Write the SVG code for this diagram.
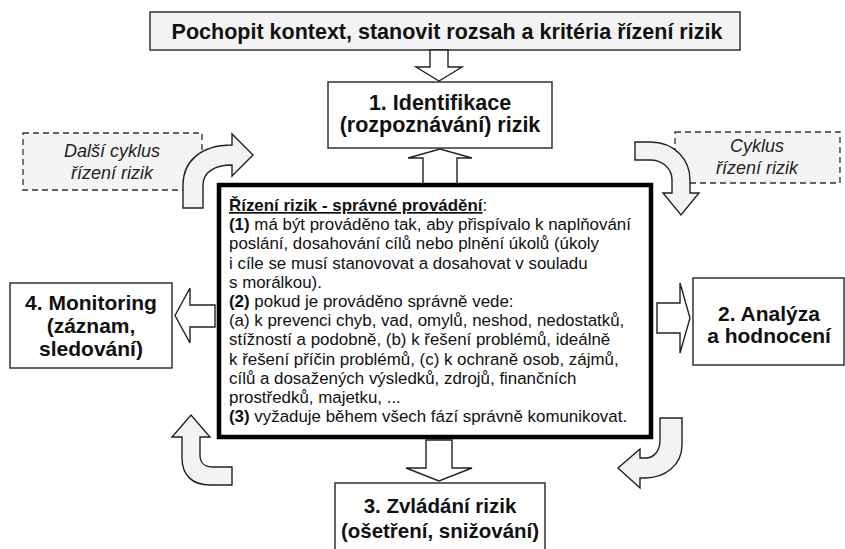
<svg xmlns="http://www.w3.org/2000/svg" width="845" height="549" viewBox="0 0 845 549">
  <style>
    .box { fill: #ffffff; stroke: #333333; stroke-width: 1.5; }
    .topbox { fill: #f3f3f3; stroke: #333333; stroke-width: 1.5; }
    .note { fill: #f4f4f4; stroke: #333333; stroke-width: 1.3; stroke-dasharray: 6 4; }
    .core { fill: #ffffff; stroke: #000000; stroke-width: 4.5; }
    .arrow { fill: #ffffff; stroke: #222222; stroke-width: 1.4; stroke-linejoin: miter; }
    .bend { fill: #f3f3f3; stroke: #222222; stroke-width: 1.4; }
    .head { font-family: "Liberation Sans", Arial, sans-serif; font-weight: bold; fill: #111111; text-anchor: middle; }
    .it { font-family: "Liberation Sans", Arial, sans-serif; font-style: italic; font-size: 18px; fill: #222222; text-anchor: middle; }
    .body { font-family: "Liberation Sans", Arial, sans-serif; font-size: 16.9px; fill: #111111; }
    .b { font-weight: bold; }
  </style>

  <!-- context banner -->
  <g id="context">
    <rect class="topbox" x="150" y="12" width="590" height="38"/>
    <text class="head" x="447" y="38.5" font-size="21.5">Pochopit kontext, stanovit rozsah a kritéria řízení rizik</text>
  </g>

  <!-- step 1 -->
  <g id="identifikace">
    <rect class="box" x="328" y="82" width="224" height="66"/>
    <text class="head" x="440" y="110" font-size="21.5">1. Identifikace</text>
    <text class="head" x="440" y="132" font-size="21.5">(rozpoznávání) rizik</text>
  </g>

  <!-- step 2 -->
  <g id="analyza">
    <rect class="box" x="693" y="278" width="151" height="87"/>
    <text class="head" x="769" y="321" font-size="21">2. Analýza</text>
    <text class="head" x="769" y="343" font-size="21">a hodnocení</text>
  </g>

  <!-- step 3 -->
  <g id="zvladani">
    <rect class="box" x="335" y="483" width="210" height="80"/>
    <text class="head" x="440" y="513" font-size="20.5">3. Zvládání rizik</text>
    <text class="head" x="440" y="538" font-size="20.5">(ošetření, snižování)</text>
  </g>

  <!-- step 4 -->
  <g id="monitoring">
    <rect class="box" x="10" y="283" width="162" height="85"/>
    <text class="head" x="91" y="310" font-size="21">4. Monitoring</text>
    <text class="head" x="91" y="333" font-size="21">(záznam,</text>
    <text class="head" x="91" y="356" font-size="21">sledování)</text>
  </g>

  <!-- cycle notes -->
  <g id="dalsi-cyklus">
    <rect class="note" x="23" y="133" width="179" height="57"/>
    <text class="it" x="112" y="157">Další cyklus</text>
    <text class="it" x="112" y="179">řízení rizik</text>
  </g>
  <g id="cyklus">
    <rect class="note" x="675" y="132" width="165" height="51"/>
    <text class="it" x="757" y="152">Cyklus</text>
    <text class="it" x="757" y="174">řízení rizik</text>
  </g>

  <!-- connectors -->
  <g id="connectors">
    <!-- banner to step 1 -->
    <path class="arrow" d="M430 50 L448 50 L448 67 L462 67 L439 81 L416 67 L430 67 Z"/>
    <!-- core to step 1 -->
    <path class="arrow" d="M423 184 L423 158 L408 158 L440 149 L472 158 L457 158 L457 184 Z"/>
    <!-- core to step 2 -->
    <path class="arrow" d="M657 303 L680 303 L680 283 L690 318 L680 353 L680 333 L657 333 Z"/>
    <!-- core to step 3 -->
    <path class="arrow" d="M426 440 L452 440 L452 468 L472 468 L439 481 L406 468 L426 468 Z"/>
    <!-- core to step 4 -->
    <path class="arrow" d="M215 305 L190 305 L190 288 L175 315.5 L190 343 L190 327 L215 327 Z"/>
    <!-- cycle bends -->
    <path class="bend" d="M183 208 L183 185 C183 162 200 145 232 145 L232 134 L253 155 L232 176 L232 165 C215 165 203 172 203 185 L203 208 Z"/>
    <path class="bend" d="M635 142 L650 142 C675 142 690 160 690 180 L690 193 L699 193 L681 215 L663 193 L672 193 L672 180 C672 168 662 160 650 160 L635 160 Z"/>
    <path class="bend" d="M660 418 L682 418 L682 445 C682 465 665 478 645 478 L640 478 L640 488 L618 468 L640 449 L640 458 L645 458 C655 458 660 450 660 440 Z"/>
    <path class="bend" d="M232 467 L232 485 L210 485 C192 485 182 475 182 458 L182 437 L172 437 L191 415 L210 437 L200 437 L200 455 C200 462 204 467 212 467 Z"/>
  </g>

  <!-- central principles panel -->
  <g id="spravne-provadeni">
    <rect class="core" x="219" y="185" width="432" height="252"/>
    <text class="body" x="229">
      <tspan x="229" y="211"><tspan class="b" text-decoration="underline">Řízení rizik - správné provádění</tspan>:</tspan>
      <tspan x="229" y="230.2"><tspan class="b">(1)</tspan> má být prováděno tak, aby přispívalo k naplňování</tspan>
      <tspan x="229" y="249.4">poslání, dosahování cílů nebo plnění úkolů (úkoly</tspan>
      <tspan x="229" y="268.6">i cíle se musí stanovovat a dosahovat v souladu</tspan>
      <tspan x="229" y="287.8">s morálkou).</tspan>
      <tspan x="229" y="307"><tspan class="b">(2)</tspan> pokud je prováděno správně vede:</tspan>
      <tspan x="229" y="326.2">(a) k prevenci chyb, vad, omylů, neshod, nedostatků,</tspan>
      <tspan x="229" y="345.4">stížností a podobně, (b) k řešení problémů, ideálně</tspan>
      <tspan x="229" y="364.6">k řešení příčin problémů, (c) k ochraně osob, zájmů,</tspan>
      <tspan x="229" y="383.8">cílů a dosažených výsledků, zdrojů, finančních</tspan>
      <tspan x="229" y="403">prostředků, majetku, ...</tspan>
      <tspan x="229" y="422.2"><tspan class="b">(3)</tspan> vyžaduje během všech fází správně komunikovat.</tspan>
    </text>
  </g>
</svg>
